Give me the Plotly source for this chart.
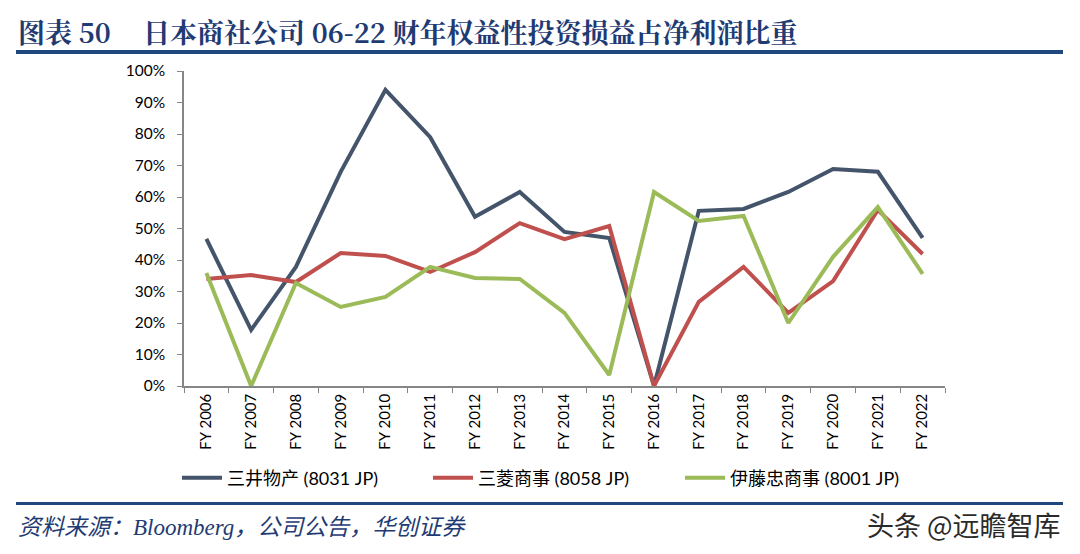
import plotly.graph_objects as go

years = ["FY 2006", "FY 2007", "FY 2008", "FY 2009", "FY 2010", "FY 2011", "FY 2012",
         "FY 2013", "FY 2014", "FY 2015", "FY 2016", "FY 2017", "FY 2018", "FY 2019",
         "FY 2020", "FY 2021", "FY 2022"]
mitsui = [46.7, 17.8, 37.8, 68.0, 94.0, 79.0, 53.7, 61.6, 48.9, 47.0, 0.0, 55.6, 56.2, 61.6, 68.9, 68.0, 47.0]
mitsubishi = [34.0, 35.2, 33.0, 42.2, 41.3, 36.2, 42.5, 51.7, 46.6, 50.8, 0.0, 26.7, 37.8, 23.2, 33.3, 55.9, 41.9]
itochu = [35.9, 0.0, 32.7, 25.1, 28.3, 37.8, 34.3, 34.0, 23.2, 3.5, 61.6, 52.4, 54.0, 20.0, 41.0, 56.8, 35.6]
names = ["三井物产 (8031 JP)", "三菱商事 (8058 JP)", "伊藤忠商事 (8001 JP)"]
colors = ["#44546A", "#C0504D", "#9BBB59"]
yticks = [0, 10, 20, 30, 40, 50, 60, 70, 80, 90, 100]

W, H = 1080, 554
L, R, T, B = 184, 945, 71, 386

def px(x):
    return (x - L) / (R - L)

def py(y):
    return (B - y) / (B - T)

legend_ids = ["legend", "legend2", "legend3"]
legend_x = [177, 428, 680]

fig = go.Figure()
for name, vals, c, lid in zip(names, [mitsui, mitsubishi, itochu], colors, legend_ids):
    fig.add_trace(go.Scatter(x=years, y=[v / 100 for v in vals], mode="lines", name=name,
                             line=dict(color=c, width=4), legend=lid))

legfont = dict(family="Lato, 'Noto Sans CJK SC', sans-serif", size=18, color="#000000")
leg = {}
for lid, lx in zip(legend_ids, legend_x):
    leg[lid] = dict(x=px(lx), y=py(478), xanchor="left", yanchor="middle", bgcolor="rgba(0,0,0,0)",
                    font=legfont, borderwidth=0, itemwidth=40)

fig.update_layout(
    width=W, height=H,
    margin=dict(l=L, r=W - R, t=T, b=H - B, pad=0),
    paper_bgcolor="white", plot_bgcolor="white",
    font=dict(family="Lato, 'Noto Sans CJK SC', sans-serif", size=15, color="#000000"),
    showlegend=True,
    **leg,
    xaxis=dict(type="category", range=[-0.5, 16.5], tickangle=-90, showline=True, linecolor="#868686",
               linewidth=1.5, ticks="outside", ticklen=5, tickcolor="#868686", tickson="boundaries",
               showgrid=False, zeroline=False, tickfont=dict(size=15)),
    yaxis=dict(range=[0, 1.0], tickvals=[v / 100 for v in yticks],
               ticktext=[f"{v}%" for v in yticks], showline=True, linecolor="#868686",
               linewidth=1.5, ticks="outside", ticklen=5, tickcolor="#868686",
               ticklabelstandoff=9,
               showgrid=False, zeroline=False, tickfont=dict(size=15.5)),
)

titlefont = dict(family="'Noto Serif CJK SC', 'Noto Sans CJK SC', serif", size=27, color="#1F3B73")
fig.add_annotation(xref="paper", yref="paper", x=px(16), y=py(31), xanchor="left", yanchor="middle",
                   text="<b>图表 50</b>", showarrow=False, font=titlefont)
fig.add_annotation(xref="paper", yref="paper", x=px(141), y=py(31), xanchor="left", yanchor="middle",
                   text="<b>日本商社公司 06-22 财年权益性投资损益占净利润比重</b>",
                   showarrow=False, font=titlefont)
# rules
fig.add_shape(type="rect", xref="paper", yref="paper", x0=px(16), x1=px(1063), y0=py(50), y1=py(54),
              fillcolor="#1F497D", line=dict(width=0))
fig.add_shape(type="rect", xref="paper", yref="paper", x0=px(16), x1=px(1063), y0=py(502), y1=py(505),
              fillcolor="#1F497D", line=dict(width=0))
# footer
fig.add_annotation(xref="paper", yref="paper", x=px(16), y=py(527), xanchor="left", yanchor="middle",
                   text="<i>资料来源：Bloomberg，公司公告，华创证券</i>", showarrow=False,
                   font=dict(family="'Liberation Serif', 'Noto Sans CJK SC', serif", size=23, color="#1F3B73"))
fig.add_annotation(xref="paper", yref="paper", x=px(1063), y=py(524), xanchor="right", yanchor="middle",
                   text="头条 @远瞻智库", showarrow=False,
                   font=dict(family="'Noto Sans CJK SC', sans-serif", size=27, color="#2A2A2A"))

fig.write_html("out.html", config={"displayModeBar": False},
               post_script="document.body.style.margin='0';")
